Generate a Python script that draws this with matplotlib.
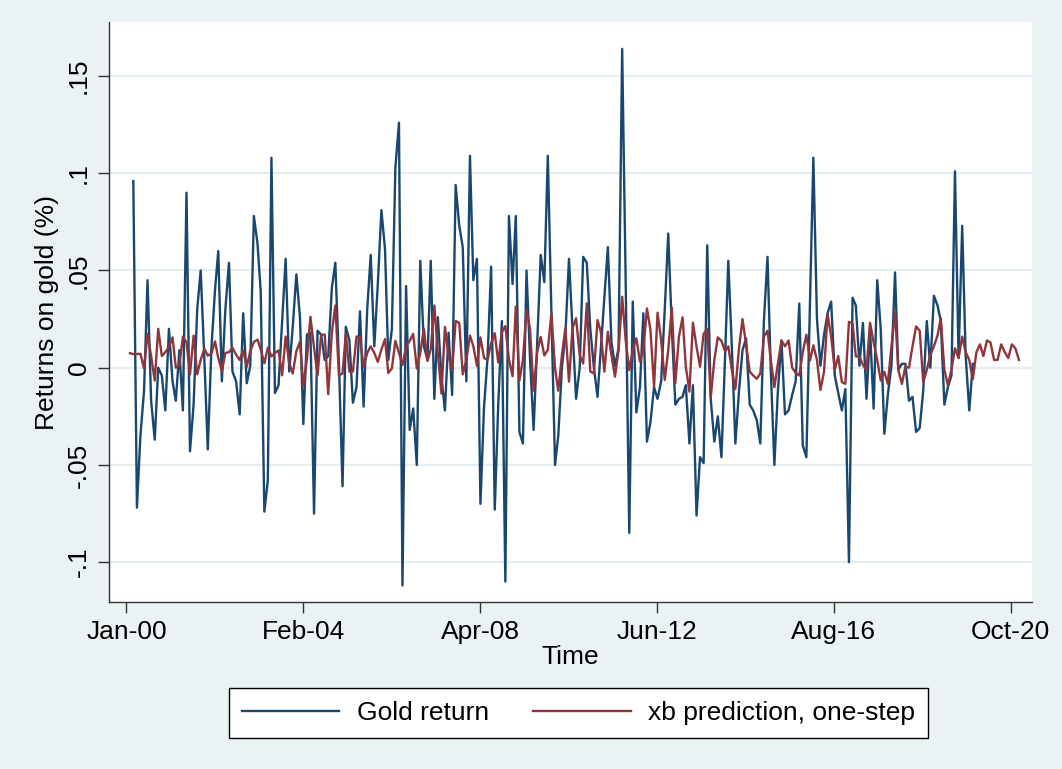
import numpy as np
import pandas as pd
import matplotlib
matplotlib.use("Agg")
import matplotlib.pyplot as plt

plt.rcParams['font.family'] = ['Liberation Sans Narrow', 'DejaVu Sans Condensed', 'Liberation Sans', 'DejaVu Sans']

# monthly gold returns, Feb 2000 onwards
gold_return = [
    0.096, -0.072, -0.035, -0.012, 0.045, -0.017, -0.037, 0.000, -0.004, -0.022,
    0.020, -0.007, -0.017, 0.009, -0.022, 0.090, -0.043, -0.019, 0.030, 0.050,
    0.005, -0.042, 0.010, 0.040, 0.060, -0.007, 0.030, 0.054, -0.002, -0.007,
    -0.024, 0.028, -0.008, 0.001, 0.078, 0.064, 0.039, -0.074, -0.058, 0.108,
    -0.013, -0.009, 0.024, 0.056, -0.002, 0.021, 0.048, 0.026, -0.029, 0.017,
    0.018, -0.075, 0.019, 0.017, 0.004, 0.006, 0.041, 0.054, 0.002, -0.061,
    0.021, 0.014, -0.018, -0.010, 0.029, -0.020, 0.030, 0.058, 0.011, 0.043,
    0.081, 0.061, 0.004, 0.020, 0.103, 0.126, -0.112, 0.042, -0.032, -0.021,
    -0.050, 0.055, 0.011, 0.004, 0.055, -0.016, 0.026, -0.005, -0.022, 0.018,
    -0.014, 0.094, 0.073, 0.062, -0.007, 0.109, 0.045, 0.056, -0.070, -0.020,
    0.005, 0.052, -0.073, -0.019, 0.024, -0.110, 0.078, 0.043, 0.078, -0.033,
    -0.039, 0.050, 0.005, -0.032, 0.013, 0.058, 0.044, 0.109, 0.028, -0.050,
    -0.035, 0.000, 0.017, 0.056, 0.020, -0.016, 0.000, 0.057, 0.054, 0.020,
    0.000, -0.015, 0.009, 0.036, 0.062, 0.013, 0.001, 0.010, 0.164, 0.045,
    -0.085, 0.034, -0.023, -0.010, 0.028, -0.038, -0.028, -0.010, -0.016, -0.007,
    0.030, 0.069, 0.020, -0.019, -0.016, -0.015, -0.009, -0.039, -0.009, -0.076,
    -0.046, -0.049, 0.063, -0.016, -0.038, -0.025, -0.046, 0.005, 0.055, 0.010,
    -0.039, -0.012, 0.009, 0.015, -0.019, -0.022, -0.027, -0.039, 0.024, 0.057,
    -0.001, -0.050, -0.012, 0.014, -0.024, -0.022, -0.014, -0.007, 0.033, -0.040,
    -0.046, 0.034, 0.108, 0.025, 0.001, 0.017, 0.028, 0.034, -0.004, -0.013,
    -0.022, -0.011, -0.100, 0.036, 0.032, 0.001, 0.023, -0.016, 0.020, -0.021,
    0.045, 0.020, -0.034, -0.014, 0.001, 0.049, -0.001, 0.002, 0.002, -0.017,
    -0.015, -0.033, -0.031, -0.012, 0.024, 0.000, 0.037, 0.032, 0.024, -0.019,
    -0.010, -0.004, 0.101, 0.005, 0.073, 0.006, -0.022, 0.002,
]

# one-step xb prediction, Jan 2000 onwards
xb_pred = [
    0.0075, 0.0070, 0.0070, 0.0072, -0.0004, 0.0174, 0.0060, -0.0066, 0.0200, 0.0060,
    0.0080, 0.0106, 0.0156, 0.0000, 0.0014, 0.0160, 0.0130, -0.0034, 0.0165, -0.0034,
    0.0040, 0.0097, 0.0062, 0.0073, 0.0135, 0.0050, -0.0018, 0.0076, 0.0080, 0.0103,
    0.0067, 0.0040, 0.0089, 0.0005, 0.0085, 0.0133, 0.0144, 0.0094, 0.0023, 0.0103,
    0.0058, 0.0076, 0.0089, -0.0039, 0.0160, 0.0023, -0.0030, 0.0085, 0.0133, -0.0092,
    0.0044, 0.0262, 0.0103, -0.0039, 0.0170, 0.0170, -0.0136, 0.0180, 0.0320, -0.0039,
    -0.0030, 0.0174, -0.0020, -0.0020, 0.0160, 0.0156, 0.0005, 0.0076, 0.0110, 0.0076,
    0.0030, 0.0094, 0.0147, -0.0027, -0.0004, 0.0138, 0.0076, 0.0014, 0.0110, 0.0138,
    0.0174, -0.0004, 0.0076, 0.0200, 0.0035, 0.0094, 0.0320, 0.0076, -0.0133, 0.0210,
    0.0058, -0.0012, 0.0240, 0.0230, -0.0034, 0.0040, 0.0165, 0.0110, 0.0009, 0.0156,
    0.0050, 0.0040, 0.0126, 0.0177, 0.0027, 0.0182, 0.0214, 0.0044, -0.0044, 0.0315,
    -0.0066, 0.0040, 0.0298, 0.0200, -0.0118, 0.0082, 0.0158, 0.0063, 0.0092, 0.0280,
    -0.0004, -0.0118, 0.0063, 0.0203, -0.0072, 0.0203, 0.0254, 0.0065, 0.0022, 0.0331,
    -0.0020, -0.0029, 0.0245, 0.0185, -0.0020, 0.0185, 0.0065, -0.0046, 0.0091, 0.0365,
    0.0142, -0.0012, 0.0091, 0.0151, 0.0031, 0.0091, 0.0305, 0.0194, -0.0098, 0.0283,
    0.0142, -0.0063, 0.0091, 0.0309, -0.0080, 0.0160, 0.0259, 0.0005, -0.0123, 0.0232,
    0.0108, 0.0005, 0.0174, 0.0200, -0.0154, 0.0040, 0.0156, 0.0138, 0.0085, 0.0110,
    -0.0012, -0.0110, 0.0100, 0.0250, 0.0120, -0.0020, -0.0040, -0.0057, -0.0030, 0.0160,
    0.0190, 0.0040, -0.0100, 0.0020, 0.0140, 0.0110, 0.0140, 0.0000, -0.0027, -0.0040,
    0.0080, 0.0170, 0.0037, 0.0115, 0.0040, -0.0115, -0.0020, 0.0275, 0.0160, -0.0010,
    0.0060, -0.0074, -0.0083, 0.0236, 0.0227, 0.0058, 0.0058, 0.0014, -0.0012, 0.0231,
    0.0130, 0.0040, -0.0066, -0.0021, -0.0083, 0.0110, 0.0286, -0.0012, -0.0083, 0.0005,
    0.0000, 0.0110, 0.0212, 0.0190, -0.0074, -0.0012, 0.0067, 0.0110, 0.0165, 0.0255,
    -0.0010, -0.0090, -0.0010, 0.0100, 0.0050, 0.0160, 0.0080, 0.0040, -0.0060, 0.0080,
    0.0120, 0.0060, 0.0140, 0.0130, 0.0040, 0.0040, 0.0120, 0.0080, 0.0050, 0.0120,
    0.0100, 0.0040,
]

y_ticks = [-0.1, -0.05, 0, 0.05, 0.1, 0.15]
y_ticklabels = ['-.1', '-.05', '0', '.05', '.1', '.15']
x_tick_labels = ['Jan-00', 'Feb-04', 'Apr-08', 'Jun-12', 'Aug-16', 'Oct-20']

# month-end dates
pred_dates = pd.date_range('2000-02-01', periods=len(xb_pred), freq='MS') - pd.Timedelta(days=1)
gold_dates = pd.date_range('2000-03-01', periods=len(gold_return), freq='MS') - pd.Timedelta(days=1)

bg = '#EAF2F3'
navy = '#1A476F'
maroon = '#90353B'
fs = 19

fig = plt.figure(figsize=(10.62, 7.69), dpi=100, facecolor=bg)
ax = fig.add_axes([109 / 1062, 1 - 602 / 769, (1032 - 109) / 1062, (602 - 22) / 769])
ax.set_facecolor('white')

ax.plot(gold_dates, gold_return, color=navy, lw=1.7, label='Gold return', zorder=3)
ax.plot(pred_dates, xb_pred, color=maroon, lw=1.7, label='xb prediction, one-step', zorder=4)

# stata-style ticks every 1520 days starting 1 Jan 2000
start = pd.Timestamp('2000-01-01')
xt = [start + pd.Timedelta(days=1520 * i) for i in range(6)]
ax.set_xticks(xt)
ax.set_xticklabels(x_tick_labels)
ax.set_xlim(start - pd.Timedelta(days=150), start + pd.Timedelta(days=7782))

ax.set_yticks(y_ticks)
ax.set_yticklabels(y_ticklabels, rotation=90, va='center')
ax.set_ylim(-0.1205, 0.1778)

ax.grid(axis='y', color='#E6EEF0', lw=1.6, zorder=0)
ax.set_axisbelow(True)

for s in ['top', 'right']:
    ax.spines[s].set_visible(False)
for s in ['left', 'bottom']:
    ax.spines[s].set_color('#333333')
    ax.spines[s].set_linewidth(1.0)

ax.tick_params(axis='both', length=8, width=1, color='#333333', labelsize=fs, pad=5)
ax.set_xlabel('Time', fontsize=fs, labelpad=1)
ax.set_ylabel('Returns on gold (%)', fontsize=fs, labelpad=6)

leg = fig.legend(loc='center', bbox_to_anchor=(578.5 / 1062, 1 - 713 / 769), ncol=2,
                 fontsize=fs, frameon=True, fancybox=False, edgecolor='black',
                 framealpha=1, handlelength=3.7, handletextpad=0.65, columnspacing=1.7,
                 borderpad=0.5)
leg.get_frame().set_linewidth(1.0)

fig.savefig('out.png', dpi=100, facecolor=bg)
